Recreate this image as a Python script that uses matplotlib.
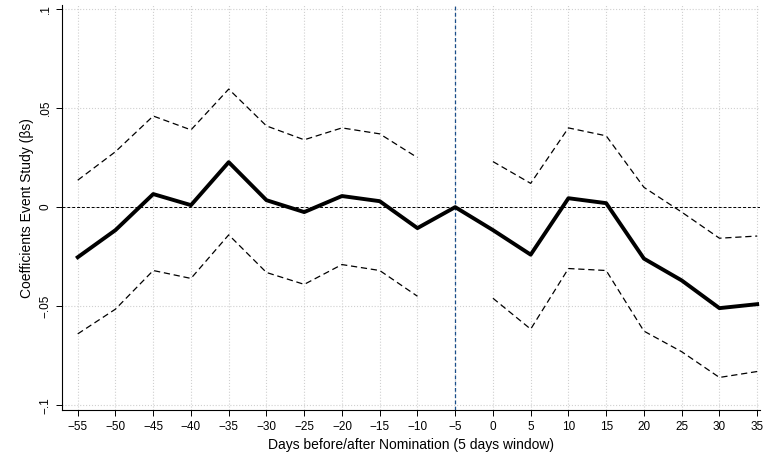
import matplotlib.pyplot as plt
import numpy as np

plt.rcParams["font.family"] = ["Liberation Sans", "DejaVu Sans"]

days = [-55, -50, -45, -40, -35, -30, -25, -20, -15, -10, -5, 0, 5, 10, 15, 20, 25, 30, 35]
coef = [-0.0253, -0.0116, 0.0066, 0.001, 0.0227, 0.0035, -0.0025, 0.0056, 0.003, -0.0106,
        0.0, -0.0116, -0.024, 0.0045, 0.002, -0.026, -0.037, -0.051, -0.049]
upper = [0.0136, 0.028, 0.046, 0.039, 0.0596, 0.041, 0.034, 0.040, 0.037, 0.025,
         np.nan, 0.023, 0.012, 0.040, 0.036, 0.010, -0.0025, -0.0157, -0.0146]
lower = [-0.064, -0.0515, -0.032, -0.036, -0.014, -0.033, -0.039, -0.029, -0.032, -0.045,
         np.nan, -0.046, -0.0616, -0.031, -0.032, -0.0626, -0.073, -0.086, -0.083]
yticks = [-0.1, -0.05, 0, 0.05, 0.1]
ylabels = ["\u2212.1", "\u2212.05", "0", ".05", ".1"]

fig = plt.figure(figsize=(7.64, 4.65), dpi=100)
ax = fig.add_axes([0.081, 0.118, 0.914, 0.871])

for d in days:
    ax.axvline(d, color="#d0d0d0", linestyle=":", linewidth=0.8, zorder=0)
for y in yticks:
    ax.axhline(y, color="#d0d0d0", linestyle=":", linewidth=0.8, zorder=0)

ax.axhline(0, color="black", linestyle="--", linewidth=0.7, dashes=(3, 2))
ax.axvline(-5, color="#1a4e8a", linestyle="--", linewidth=0.9, dashes=(3, 2))

ax.plot(days, upper, color="black", linestyle="--", linewidth=0.9, dashes=(5, 3))
ax.plot(days, lower, color="black", linestyle="--", linewidth=0.9, dashes=(5, 3))
ax.plot(days, coef, color="black", linewidth=2.8)

ax.set_xlim(-57.1, 35.4)
ax.set_ylim(-0.1025, 0.102)
ax.set_xticks(days)
ax.set_xticklabels([str(d).replace("-", "\u2212") for d in days], fontsize=8.5)
ax.set_yticks(yticks)
ax.set_yticklabels(ylabels, fontsize=8.5, rotation=90, va="center")
ax.set_xlabel("Days before/after Nomination (5 days window)", fontsize=10)
ax.set_ylabel("Coefficients Event Study (\u03b2s)", fontsize=10)
for s in ["top", "right"]:
    ax.spines[s].set_visible(False)
ax.tick_params(length=4, width=0.7)

fig.savefig("out.png", dpi=100)
plt.close(fig)
